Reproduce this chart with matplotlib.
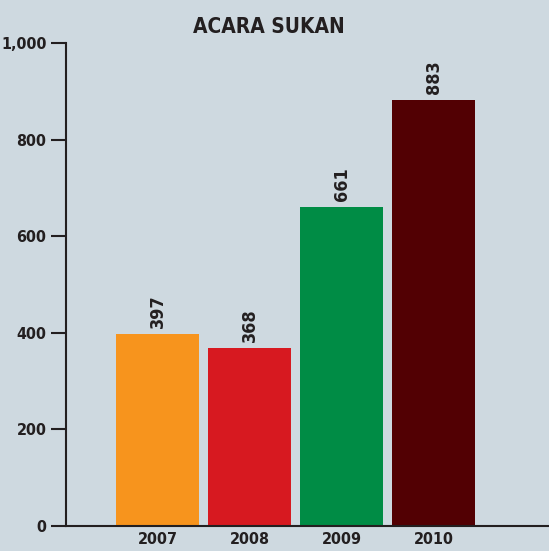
import matplotlib
matplotlib.use("Agg")
import matplotlib.pyplot as plt
from matplotlib import font_manager

years = ["2007", "2008", "2009", "2010"]
values = [397, 368, 661, 883]
colors = ["#F7941D", "#D71920", "#008C45", "#520003"]
yticks = [0, 200, 400, 600, 800, 1000]
ytick_labels = ["0", "200", "400", "600", "800", "1,000"]
title = "ACARA SUKAN"

names = {f.name for f in font_manager.fontManager.ttflist}
fam = "Liberation Sans Narrow" if "Liberation Sans Narrow" in names else "DejaVu Sans"
stretch = "normal" if fam == "Liberation Sans Narrow" else "condensed"
plt.rcParams["font.family"] = [fam, "DejaVu Sans"]
plt.rcParams["font.stretch"] = stretch

bg = "#CED9E0"
ink = "#231F20"
fig = plt.figure(figsize=(5.49, 5.51), dpi=100, facecolor=bg)
ax = fig.add_axes([66/549, 25/551, 1 - 66/549, 483/551], facecolor=bg)

x = list(range(len(years)))
bars = ax.bar(x, values, width=0.9, color=colors, zorder=2)
ax.set_xlim(-0.995, 4.255)
ax.set_ylim(0, 1000)

for xi, v in zip(x, values):
    ax.annotate(str(v), (xi, v), xytext=(0, 6), textcoords="offset pixels",
                rotation=90, ha="center", va="bottom", fontsize=13,
                fontweight="bold", color=ink, clip_on=False)

ax.set_yticks(yticks)
ax.set_yticklabels(ytick_labels)
ax.set_xticks(x)
ax.set_xticklabels(years)
ax.tick_params(axis="y", length=11, width=1.5, color=ink, pad=3,
               labelsize=11.5, labelcolor=ink)
ax.tick_params(axis="x", length=0, pad=4, labelsize=11.5, labelcolor=ink)
for lab in ax.get_xticklabels() + ax.get_yticklabels():
    lab.set_fontweight("bold")

for s in ["top", "right"]:
    ax.spines[s].set_visible(False)
ax.spines["left"].set_color(ink)
ax.spines["left"].set_linewidth(1.5)
ax.spines["bottom"].set_color(ink)
ax.spines["bottom"].set_linewidth(1.5)

fig.text(269/549, 1 - 27/551, title, ha="center", va="center", fontsize=15,
         fontweight="bold", color=ink)

fig.savefig("out.png", dpi=100, facecolor=bg)
